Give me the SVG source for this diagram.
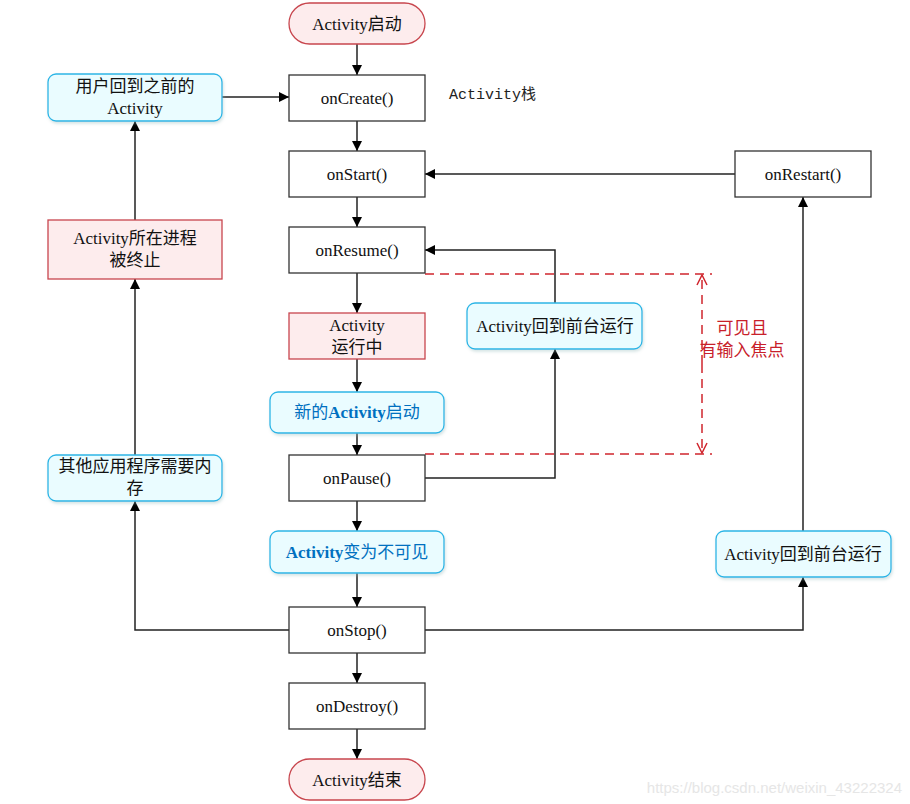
<svg xmlns="http://www.w3.org/2000/svg" width="910" height="804" viewBox="0 0 910 804">
<defs>
<style>
.t{font-family:"Liberation Serif","Noto Sans CJK SC",serif;font-size:17px;fill:#111;text-anchor:middle;dominant-baseline:central}
.b{fill:#0070c0}
.box{fill:#fff;stroke:#333;stroke-width:1.3}
.pink{fill:#fdeced;stroke:#c8464e;stroke-width:1.3}
.blue{fill:#eafcff;stroke:#2bb5e6;stroke-width:1.3}
.ln{fill:none;stroke:#222;stroke-width:1.5}
.red{fill:none;stroke:#d0262e;stroke-width:1.5;stroke-dasharray:9 6}
</style>
<marker id="ar" viewBox="0 0 10 10" refX="10" refY="5" markerWidth="10" markerHeight="10" markerUnits="userSpaceOnUse" orient="auto">
<path d="M0,0 L10,5 L0,10 z" fill="#000"/>
</marker>
<marker id="oa" viewBox="0 0 12 12" refX="11" refY="6" markerWidth="12" markerHeight="12" markerUnits="userSpaceOnUse" orient="auto">
<path d="M1,1 L11,6 L1,11" fill="none" stroke="#d0262e" stroke-width="1.5"/>
</marker>
<filter id="sh" x="-10%" y="-20%" width="120%" height="150%">
<feDropShadow dx="1" dy="2" stdDeviation="1.5" flood-color="#9bb" flood-opacity="0.4"/>
</filter>
</defs>
<rect width="910" height="804" fill="#fff"/>

<g id="connectors">
<line class="ln" x1="357" y1="44" x2="357" y2="75" marker-end="url(#ar)"/>
<line class="ln" x1="222" y1="97" x2="289" y2="97" marker-end="url(#ar)"/>
<line class="ln" x1="357" y1="121" x2="357" y2="151" marker-end="url(#ar)"/>
<line class="ln" x1="357" y1="197" x2="357" y2="227" marker-end="url(#ar)"/>
<line class="ln" x1="357" y1="273" x2="357" y2="313" marker-end="url(#ar)"/>
<line class="ln" x1="357" y1="359" x2="357" y2="392" marker-end="url(#ar)"/>
<line class="ln" x1="357" y1="433" x2="357" y2="455" marker-end="url(#ar)"/>
<line class="ln" x1="357" y1="501" x2="357" y2="531" marker-end="url(#ar)"/>
<line class="ln" x1="357" y1="573" x2="357" y2="607" marker-end="url(#ar)"/>
<line class="ln" x1="357" y1="653" x2="357" y2="683" marker-end="url(#ar)"/>
<line class="ln" x1="357" y1="729" x2="357" y2="759" marker-end="url(#ar)"/>
<line class="ln" x1="735" y1="174" x2="425" y2="174" marker-end="url(#ar)"/>
<polyline class="ln" points="555,303 555,250 425,250" marker-end="url(#ar)"/>
<polyline class="ln" points="425,478 555,478 555,349" marker-end="url(#ar)"/>
<polyline class="ln" points="289,630 135,630 135,501" marker-end="url(#ar)"/>
<line class="ln" x1="135" y1="455" x2="135" y2="279" marker-end="url(#ar)"/>
<line class="ln" x1="135" y1="220" x2="135" y2="121" marker-end="url(#ar)"/>
<polyline class="ln" points="425,630 803,630 803,577" marker-end="url(#ar)"/>
<line class="ln" x1="803" y1="531" x2="803" y2="197" marker-end="url(#ar)"/>
<line class="red" x1="425" y1="274" x2="712" y2="274"/>
<line class="red" x1="425" y1="454" x2="712" y2="454"/>
<line class="red" x1="702" y1="364" x2="702" y2="275" marker-end="url(#oa)"/>
<line class="red" x1="702" y1="364" x2="702" y2="453" marker-end="url(#oa)"/>
</g>

<g id="start"><rect class="pink" x="289" y="3" width="136" height="41" rx="20.5"/><text class="t" x="357" y="24">Activity启动</text></g>
<g id="onCreate"><rect class="box" x="289" y="75" width="136" height="46"/><text class="t" x="357" y="98">onCreate()</text></g>
<g id="stackLabel"><text x="449" y="95" style="font-family:'Liberation Mono','Noto Sans CJK SC',monospace;font-size:15px;fill:#222;dominant-baseline:central">Activity栈</text></g>
<g id="onStart"><rect class="box" x="289" y="151" width="136" height="46"/><text class="t" x="357" y="174">onStart()</text></g>
<g id="onResume"><rect class="box" x="289" y="227" width="136" height="46"/><text class="t" x="357" y="250">onResume()</text></g>
<g id="running"><rect class="pink" x="289" y="313" width="136" height="46"/><text class="t" x="357" y="325">Activity</text><text class="t" x="357" y="347">运行中</text></g>
<g id="newActivity"><rect class="blue" x="270" y="392" width="174" height="41" rx="8" filter="url(#sh)"/><text class="t b" x="357" y="412">新的<tspan font-weight="bold">Activity</tspan>启动</text></g>
<g id="onPause"><rect class="box" x="289" y="455" width="136" height="46"/><text class="t" x="357" y="478">onPause()</text></g>
<g id="invisible"><rect class="blue" x="270" y="531" width="174" height="42" rx="8" filter="url(#sh)"/><text class="t b" x="357" y="552"><tspan font-weight="bold">Activity</tspan>变为不可见</text></g>
<g id="onStop"><rect class="box" x="289" y="607" width="136" height="46"/><text class="t" x="357" y="630">onStop()</text></g>
<g id="onDestroy"><rect class="box" x="289" y="683" width="136" height="46"/><text class="t" x="357" y="706">onDestroy()</text></g>
<g id="end"><rect class="pink" x="289" y="759" width="136" height="41" rx="20.5"/><text class="t" x="357" y="780">Activity结束</text></g>

<g id="userBack"><rect class="blue" x="48" y="74" width="174" height="47" rx="8" filter="url(#sh)"/><text class="t" x="135" y="86">用户回到之前的</text><text class="t" x="135" y="108">Activity</text></g>
<g id="killed"><rect class="pink" x="48" y="220" width="174" height="59"/><text class="t" x="135" y="238">Activity所在进程</text><text class="t" x="135" y="260">被终止</text></g>
<g id="memory"><rect class="blue" x="48" y="455" width="174" height="46" rx="8" filter="url(#sh)"/><text class="t" x="135" y="466">其他应用程序需要内</text><text class="t" x="135" y="488">存</text></g>

<g id="onRestart"><rect class="box" x="735" y="151" width="136" height="46"/><text class="t" x="803" y="174">onRestart()</text></g>
<g id="foregroundMid"><rect class="blue" x="467" y="303" width="175" height="46" rx="8" filter="url(#sh)"/><text class="t" x="555" y="326">Activity回到前台运行</text></g>
<g id="foregroundRight"><rect class="blue" x="716" y="531" width="175" height="46" rx="8" filter="url(#sh)"/><text class="t" x="803" y="554">Activity回到前台运行</text></g>

<g id="visibleLabel"><text class="t" x="742" y="328" style="fill:#c8202a">可见且</text><text class="t" x="742" y="350" style="fill:#c8202a">有输入焦点</text></g>
<text x="902" y="787" style="font-family:'Liberation Sans',sans-serif;font-size:15px;fill:#e6e6e6;text-anchor:end;dominant-baseline:central">https://blog.csdn.net/weixin_43222324</text>
</svg>
